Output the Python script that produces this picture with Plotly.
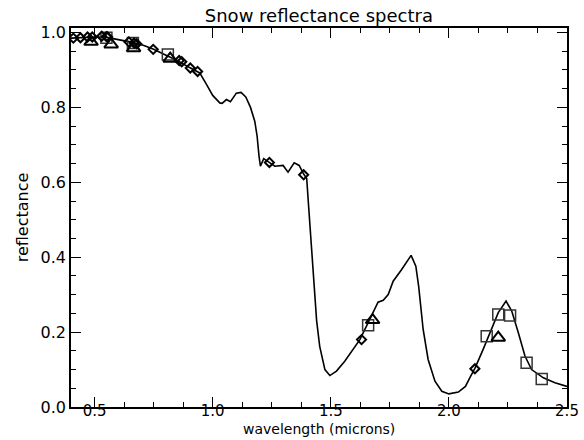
import plotly.graph_objects as go

# Snow reflectance spectrum (wavelength in microns, reflectance)
wavelength = [0.40, 0.45, 0.50, 0.55, 0.60, 0.65, 0.70, 0.75, 0.80, 0.85, 0.90, 0.945,
              0.973, 1.000, 1.030, 1.040, 1.058, 1.075, 1.100, 1.120, 1.140, 1.160, 1.178,
              1.188, 1.196, 1.202, 1.216, 1.239, 1.263, 1.298, 1.319, 1.345, 1.366, 1.385,
              1.398, 1.404, 1.411, 1.425, 1.440, 1.453, 1.475, 1.496, 1.524, 1.559, 1.595,
              1.623, 1.651, 1.679, 1.700, 1.722, 1.743, 1.764, 1.800, 1.840, 1.860, 1.872,
              1.891, 1.912, 1.941, 1.970, 2.000, 2.040, 2.070, 2.090, 2.110, 2.145, 2.174,
              2.209, 2.242, 2.266, 2.294, 2.322, 2.350, 2.400, 2.449, 2.500]
reflectance = [0.985, 0.987, 0.988, 0.987, 0.982, 0.975, 0.967, 0.955, 0.940, 0.925, 0.907, 0.892,
               0.862, 0.832, 0.812, 0.811, 0.821, 0.815, 0.838, 0.840, 0.828, 0.800, 0.763,
               0.723, 0.670, 0.643, 0.663, 0.652, 0.643, 0.645, 0.627, 0.652, 0.645, 0.622,
               0.610, 0.554, 0.492, 0.340, 0.230, 0.162, 0.100, 0.084, 0.096, 0.122, 0.154,
               0.180, 0.216, 0.252, 0.280, 0.285, 0.300, 0.336, 0.367, 0.405, 0.376, 0.322,
               0.207, 0.127, 0.069, 0.042, 0.035, 0.040, 0.055, 0.080, 0.103, 0.154, 0.198,
               0.252, 0.283, 0.256, 0.198, 0.136, 0.100, 0.078, 0.065, 0.055]

# Band-averaged values (diamonds)
diamond_x = [0.41, 0.44, 0.47, 0.49, 0.53, 0.55, 0.555, 0.645, 0.667, 0.678, 0.748,
             0.858, 0.869, 0.905, 0.936, 1.24, 1.385, 1.63, 2.11]
diamond_y = [0.985, 0.986, 0.988, 0.988, 0.990, 0.989, 0.988, 0.975, 0.972, 0.970, 0.955,
             0.925, 0.922, 0.905, 0.896, 0.653, 0.620, 0.180, 0.102]

# Band-averaged values (triangles)
triangle_x = [0.485, 0.57, 0.665, 0.82, 1.677, 2.209]
triangle_y = [0.975, 0.968, 0.958, 0.930, 0.232, 0.185]

# Band-averaged values (squares)
square_x = [0.55, 0.662, 0.81, 1.658, 2.16, 2.209, 2.259, 2.329, 2.393]
square_y = [0.986, 0.972, 0.941, 0.218, 0.189, 0.247, 0.244, 0.118, 0.075]

x_tickvals = [0.5, 1.0, 1.5, 2.0, 2.5]
x_ticktext = ["0.5", "1.0", "1.5", "2.0", "2.5"]
y_tickvals = [0.0, 0.2, 0.4, 0.6, 0.8, 1.0]
y_ticktext = ["0.0", "0.2", "0.4", "0.6", "0.8", "1.0"]

FONT = "DejaVu Sans"

fig = go.Figure()
fig.add_trace(go.Scatter(x=wavelength, y=reflectance, mode="lines",
                         line=dict(color="black", width=1.6), showlegend=False))
fig.add_trace(go.Scatter(x=square_x, y=square_y, mode="markers",
                         marker=dict(symbol="square-open", size=11, color="#333333",
                                     line=dict(color="#333333", width=1.5)),
                         showlegend=False))
fig.add_trace(go.Scatter(x=triangle_x, y=triangle_y, mode="markers",
                         marker=dict(symbol="triangle-up-open", size=12, color="black",
                                     line=dict(color="black", width=2)),
                         showlegend=False))
fig.add_trace(go.Scatter(x=diamond_x, y=diamond_y, mode="markers",
                         marker=dict(symbol="diamond-open", size=7, color="black",
                                     line=dict(color="black", width=2)),
                         showlegend=False))

axis_common = dict(showgrid=False, zeroline=False, showline=True, linecolor="black",
                   linewidth=1.5, mirror="ticks", ticks="inside", ticklen=10,
                   tickwidth=1.3, tickcolor="black", automargin=False)

fig.update_xaxes(range=[0.4, 2.5], tickmode="array", tickvals=x_tickvals,
                 ticktext=x_ticktext, ticklabelstandoff=-11,
                 tickfont=dict(family=FONT, size=15, color="black"),
                 minor=dict(dtick=0.125, tick0=0.5, ticks="inside", ticklen=5,
                            tickwidth=1.2, tickcolor="black"),
                 **axis_common)
fig.update_yaxes(range=[0, 1.012], tickmode="array", tickvals=y_tickvals,
                 ticktext=y_ticktext,
                 tickfont=dict(family=FONT, size=16, color="black"),
                 minor=dict(dtick=0.05, tick0=0, ticks="inside", ticklen=5,
                            tickwidth=1.2, tickcolor="black"),
                 title=dict(text="reflectance", standoff=8,
                            font=dict(family=FONT, size=16, color="black")),
                 **axis_common)

fig.add_annotation(text="wavelength (microns)", xref="paper", yref="paper",
                   x=0.5, y=-0.0857, xanchor="center", yanchor="bottom",
                   showarrow=False, font=dict(family=FONT, size=14, color="black"))

fig.update_layout(
    width=584, height=440,
    margin=dict(l=71, r=17, t=28, b=33),
    paper_bgcolor="white", plot_bgcolor="white",
    title=dict(text="Snow reflectance spectra", x=0.546, xanchor="center",
               y=0.965, yanchor="middle",
               font=dict(family=FONT, size=18, color="black")),
)

fig.write_html("out.html")
